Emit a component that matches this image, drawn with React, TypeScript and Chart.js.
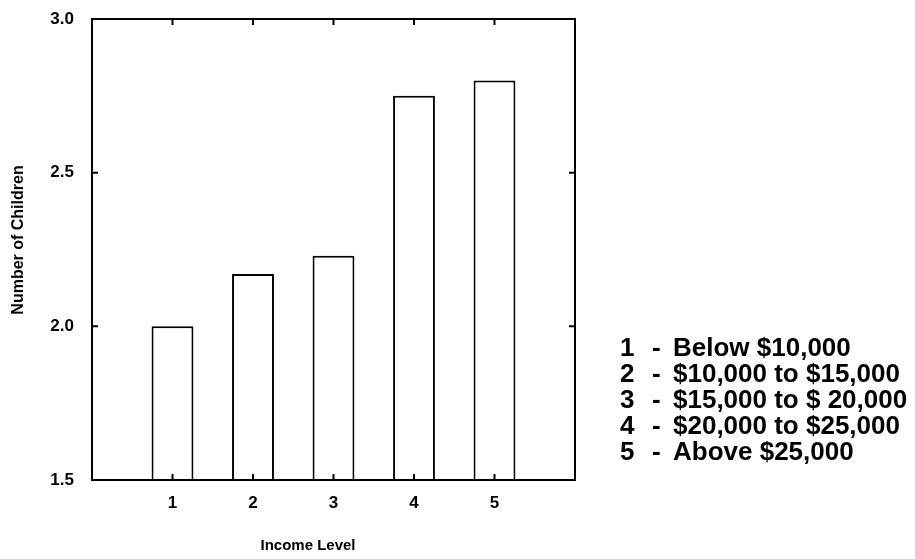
import React, { useEffect, useRef } from "react";
import { Chart, registerables } from "chart.js";

Chart.register(...registerables);

const incomeLevels = [1, 2, 3, 4, 5];
const avgChildren = [2.0, 2.17, 2.23, 2.75, 2.8];
const levelDescriptions = [
  "Below $10,000",
  "$10,000 to $15,000",
  "$15,000 to $ 20,000",
  "$20,000 to $25,000",
  "Above $25,000",
];
const yTickValues = [1.5, 2.0, 2.5, 3.0];
const xTitle = "Income Level";
const yTitle = "Number of Children";

const FONT = "'Liberation Sans', Arial, Helvetica, sans-serif";

const framePlugin = {
  id: "frameTicks",
  afterDraw(chart: any) {
    const { ctx, chartArea, scales } = chart;
    const { left, right, top, bottom } = chartArea;
    ctx.save();
    ctx.strokeStyle = "#000";
    ctx.lineWidth = 2;
    ctx.strokeRect(left, top, right - left, bottom - top);
    const tl = 6;
    ctx.beginPath();
    incomeLevels.forEach((v) => {
      const x = scales.x.getPixelForValue(v);
      ctx.moveTo(x, bottom);
      ctx.lineTo(x, bottom - tl);
      ctx.moveTo(x, top);
      ctx.lineTo(x, top + tl);
    });
    yTickValues.forEach((v) => {
      const y = scales.y.getPixelForValue(v);
      ctx.moveTo(left, y);
      ctx.lineTo(left + tl, y);
      ctx.moveTo(right, y);
      ctx.lineTo(right - tl, y);
    });
    ctx.stroke();
    ctx.restore();
  },
};

export default function App() {
  const ref = useRef<HTMLCanvasElement | null>(null);

  useEffect(() => {
    if (!ref.current) return;
    const chart = new Chart(ref.current, {
      type: "bar",
      data: {
        datasets: [
          {
            data: incomeLevels.map((l, i) => ({ x: l, y: avgChildren[i] })),
            backgroundColor: "#ffffff",
            borderColor: "#000000",
            borderWidth: 2,
            borderSkipped: false,
            barPercentage: 0.52,
            categoryPercentage: 1,
          } as any,
        ],
      },
      options: {
        animation: false,
        responsive: false,
        devicePixelRatio: 1,
        layout: { padding: { left: 4, top: 19, right: 340, bottom: 0 } },
        plugins: { legend: { display: false }, tooltip: { enabled: false } },
        scales: {
          x: {
            type: "linear",
            offset: false,
            min: 0,
            max: 6,
            afterFit: (s: any) => {
              s.height = 79;
            },
            grid: { display: false, drawTicks: true, tickLength: 12, offset: false, color: "rgba(0,0,0,0)" },
            border: { display: false },
            ticks: {
              stepSize: 1,
              padding: 1,
              color: "#000",
              font: { family: FONT, size: 17, weight: "bold" },
              callback: (v: any) => (incomeLevels.includes(Number(v)) ? String(v) : ""),
            },
            title: { display: false, text: xTitle },
          },
          y: {
            type: "linear",
            min: 1.5,
            max: 3.0,
            afterFit: (s: any) => {
              s.width = 88;
            },
            grid: { display: false, drawTicks: true, tickLength: 17, color: "rgba(0,0,0,0)" },
            border: { display: false },
            ticks: {
              stepSize: 0.5,
              padding: 1,
              color: "#000",
              font: { family: FONT, size: 17, weight: "bold" },
              callback: (v: any) => Number(v).toFixed(1),
            },
            title: { display: false, text: yTitle },
          },
        },
      },
      plugins: [framePlugin],
    });
    return () => chart.destroy();
  }, []);

  const rowCenters = [347, 373, 399, 425, 451];

  return (
    <div style={{ position: "fixed", left: 0, top: 0, width: 915, height: 559, background: "#fff" }}>
      <canvas ref={ref} width={915} height={559} style={{ position: "absolute", left: 0, top: 0 }} />
      <div
        style={{
          position: "absolute",
          left: 208,
          width: 200,
          top: 535,
          height: 20,
          lineHeight: "20px",
          textAlign: "center",
          fontFamily: FONT,
          fontSize: 15,
          fontWeight: "bold",
          color: "#000",
        }}
      >
        {xTitle}
      </div>
      <div
        style={{
          position: "absolute",
          left: 18 - 100,
          width: 200,
          top: 240 - 10,
          height: 20,
          lineHeight: "20px",
          textAlign: "center",
          fontFamily: FONT,
          fontSize: 16,
          fontWeight: "bold",
          color: "#000",
          transform: "rotate(-90deg)",
          whiteSpace: "nowrap",
        }}
      >
        {yTitle}
      </div>
      {incomeLevels.map((lvl, i) => (
        <div
          key={lvl}
          style={{
            position: "absolute",
            top: rowCenters[i] - 13,
            left: 0,
            height: 26,
            lineHeight: "26px",
            fontFamily: FONT,
            fontSize: 26,
            fontWeight: "bold",
            color: "#000",
            whiteSpace: "nowrap",
          }}
        >
          <span style={{ position: "absolute", left: 620 }}>{lvl}</span>
          <span style={{ position: "absolute", left: 652 }}>-</span>
          <span style={{ position: "absolute", left: 673 }}>{levelDescriptions[i]}</span>
        </div>
      ))}
    </div>
  );
}
